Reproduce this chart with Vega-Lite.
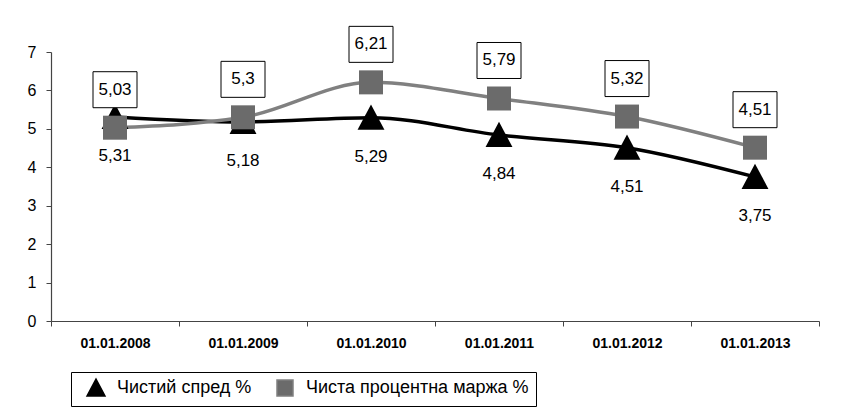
{
  "$schema": "https://vega.github.io/schema/vega-lite/v6.json",
  "width": 768,
  "height": 269,
  "autosize": "none",
  "padding": {"left": 51, "top": 52, "right": 41, "bottom": 89},
  "background": "white",
  "config": {
    "view": {"stroke": null},
    "font": "Liberation Sans"
  },
  "data": {
    "values": [
      {"date": "01.01.2008", "series": "Чистий спред %", "value": 5.31},
      {"date": "01.01.2009", "series": "Чистий спред %", "value": 5.18},
      {"date": "01.01.2010", "series": "Чистий спред %", "value": 5.29},
      {"date": "01.01.2011", "series": "Чистий спред %", "value": 4.84},
      {"date": "01.01.2012", "series": "Чистий спред %", "value": 4.51},
      {"date": "01.01.2013", "series": "Чистий спред %", "value": 3.75},
      {"date": "01.01.2008", "series": "Чиста процентна маржа %", "value": 5.03},
      {"date": "01.01.2009", "series": "Чиста процентна маржа %", "value": 5.3},
      {"date": "01.01.2010", "series": "Чиста процентна маржа %", "value": 6.21},
      {"date": "01.01.2011", "series": "Чиста процентна маржа %", "value": 5.79},
      {"date": "01.01.2012", "series": "Чиста процентна маржа %", "value": 5.32},
      {"date": "01.01.2013", "series": "Чиста процентна маржа %", "value": 4.51}
    ]
  },
  "transform": [{"calculate": "replace(format(datum.value, '.3~g'), '.', ',')", "as": "label"}],
  "encoding": {
    "x": {
      "field": "date", "type": "nominal", "sort": null,
      "scale": {"paddingInner": 0, "paddingOuter": 0},
      "axis": {
        "title": null, "labelAngle": 0, "labelFontSize": 14, "labelFontWeight": "bold",
        "labelColor": "black", "labelPadding": 10, "tickSize": 5, "tickBand": "extent",
        "domainColor": "#444", "tickColor": "#444", "domainWidth": 1.2, "grid": false
      }
    },
    "y": {
      "field": "value", "type": "quantitative",
      "scale": {"domain": [0, 7], "nice": false},
      "axis": {
        "title": null, "values": [0, 1, 2, 3, 4, 5, 6, 7], "labelFontSize": 16,
        "labelColor": "black", "labelPadding": 10, "tickSize": 5, "grid": false,
        "domainColor": "#444", "tickColor": "#444", "domainWidth": 1.2
      }
    }
  },
  "layer": [
    {
      "mark": {"type": "line", "interpolate": "monotone", "strokeWidth": 3.5},
      "encoding": {
        "color": {
          "field": "series", "type": "nominal",
          "scale": {"domain": ["Чистий спред %", "Чиста процентна маржа %"], "range": ["#000000", "#808080"]},
          "legend": {
            "title": null, "orient": "none", "legendX": 20, "legendY": 320, "direction": "horizontal",
            "strokeColor": "black", "fillColor": "white", "padding": 7,
            "labelFontSize": 18, "labelColor": "black", "labelFont": "Liberation Sans", "labelLimit": 0,
            "symbolSize": 256, "symbolOffset": 9, "labelOffset": 12, "columnPadding": 15
          }
        },
        "detail": {"field": "series", "type": "nominal"}
      }
    },
    {
      "mark": {"type": "point", "filled": true, "opacity": 1, "size": 576},
      "encoding": {
        "fill": {
          "field": "series", "type": "nominal",
          "scale": {"domain": ["Чистий спред %", "Чиста процентна маржа %"], "range": ["#000000", "#6b6b6b"]},
          "legend": null
        },
        "shape": {
          "field": "series", "type": "nominal",
          "scale": {"domain": ["Чистий спред %", "Чиста процентна маржа %"], "range": ["M0,-1.1L1.12,1L-1.12,1Z", "square"]},
          "legend": null
        }
      }
    },
    {
      "transform": [{"filter": "datum.series === 'Чистий спред %'"}],
      "mark": {"type": "text", "dy": 39, "fontSize": 17, "color": "black"},
      "encoding": {"text": {"field": "label", "type": "nominal"}}
    },
    {
      "transform": [{"filter": "datum.series === 'Чиста процентна маржа %'"}],
      "mark": {"type": "point", "shape": "M-1.1,-0.9H1.1V0.9H-1.1Z", "size": 1600, "filled": false, "fill": "white", "stroke": "black", "strokeWidth": 1, "opacity": 1, "yOffset": -38}
    },
    {
      "transform": [{"filter": "datum.series === 'Чиста процентна маржа %'"}],
      "mark": {"type": "text", "dy": -38, "fontSize": 17, "color": "black"},
      "encoding": {"text": {"field": "label", "type": "nominal"}}
    }
  ]
}
